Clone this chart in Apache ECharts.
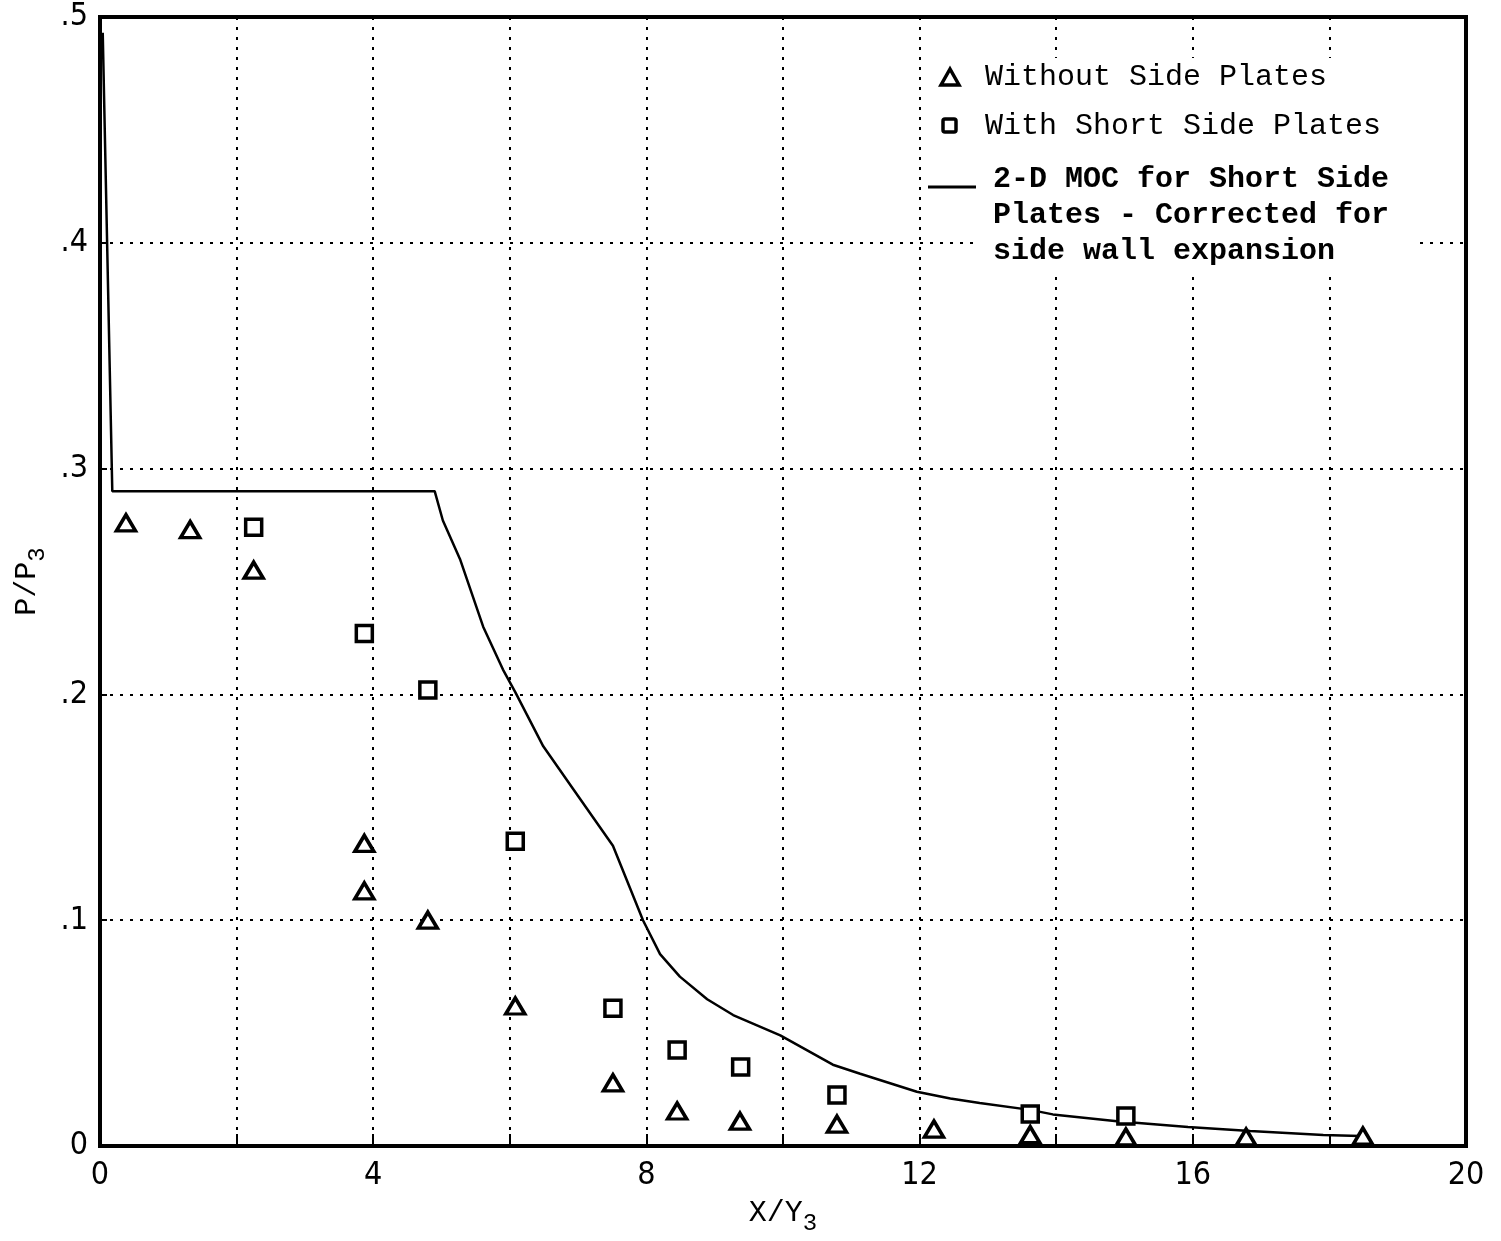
<!DOCTYPE html>
<html>
<head>
<meta charset="utf-8">
<script src="https://cdn.jsdelivr.net/npm/echarts@6/dist/echarts.min.js"></script>
<style>
  html, body { margin: 0; padding: 0; background: #fff; }
  #chart { width: 1501px; height: 1241px; }
</style>
</head>
<body>
<div id="chart"></div>
<script>
// Pressure ratio P/P3 along the ramp, X/Y3

// 2-D MOC prediction (short side plates, corrected for side wall expansion)
const mocX = [0.04, 0.18, 4.90, 5.02, 5.27, 5.61, 5.90, 6.08, 6.49, 6.93, 7.51, 7.95, 8.20, 8.49, 8.89, 9.27, 9.96, 10.73, 11.13, 11.96, 12.45, 12.88, 13.62, 13.95, 14.89, 15.93, 16.84, 17.91, 18.45];
const mocY = [0.493, 0.290, 0.290, 0.277, 0.260, 0.230, 0.211, 0.201, 0.177, 0.158, 0.133, 0.100, 0.085, 0.075, 0.065, 0.058, 0.049, 0.036, 0.032, 0.024, 0.021, 0.019, 0.016, 0.014, 0.011, 0.0084, 0.0066, 0.0049, 0.0044];

// Measured: without side plates
const noPlateX = [0.38, 1.32, 2.25, 3.87, 3.87, 4.80, 6.08, 7.51, 8.45, 9.37, 10.79, 12.21, 13.62, 15.02, 16.78, 18.49];
const noPlateY = [0.276, 0.273, 0.255, 0.134, 0.113, 0.100, 0.062, 0.028, 0.0155, 0.011, 0.0097, 0.0075, 0.005, 0.004, 0.004, 0.0044];

// Measured: with short side plates
const shortPlateX = [2.25, 3.87, 4.80, 6.08, 7.51, 8.45, 9.38, 10.79, 13.62, 15.02];
const shortPlateY = [0.274, 0.227, 0.202, 0.135, 0.061, 0.0425, 0.035, 0.0226, 0.0142, 0.0133];

// Axis tick labels
const xTickLabels = ['0', '4', '8', '12', '16', '20'];
const yTickLabels = ['0', '.1', '.2', '.3', '.4', '.5'];

const legendNames = ['Without Side Plates', 'With Short Side Plates',
  '2-D MOC for Short Side', 'Plates - Corrected for', 'side wall expansion'];

const zip = (xs, ys) => xs.map((x, i) => [x, ys[i]]);

const MONO = '"Liberation Mono", "DejaVu Sans Mono", monospace';
const NARROW = '"DejaVu Sans Condensed", "Liberation Sans Narrow", sans-serif';

const chart = echarts.init(document.getElementById('chart'), null, { renderer: 'canvas' });

const gridDots = { color: '#000', width: 2, type: [3, 7] };

const nameRich = {
  a: { fontFamily: MONO, fontSize: 30, color: '#000', verticalAlign: 'top', lineHeight: 30 },
  b: { fontFamily: MONO, fontSize: 24, color: '#000', verticalAlign: 'top', padding: [14, 0, 0, 0] }
};

const option = {
  backgroundColor: '#fff',
  animation: false,
  grid: {
    left: 100, right: 35, top: 17, bottom: 94,
    show: true, borderColor: '#000', borderWidth: 4, backgroundColor: 'transparent'
  },
  xAxis: {
    type: 'value', min: 0, max: 20, interval: 2,
    axisLine: { show: true, lineStyle: { color: '#000', width: 4 } },
    axisTick: { show: true, inside: true, length: 12, lineStyle: { color: '#000', width: 2 } },
    axisLabel: {
      color: '#000', fontFamily: NARROW, fontWeight: 'lighter', fontSize: 32, margin: 14,
      formatter: v => (v % 4 === 0 ? xTickLabels[v / 4] : '')
    },
    splitLine: { show: true, lineStyle: gridDots },
    name: '{a|X/Y}{b|3}',
    nameLocation: 'middle', nameGap: 52,
    nameTextStyle: { fontFamily: MONO, fontSize: 30, color: '#000', rich: nameRich }
  },
  yAxis: {
    type: 'value', min: 0, max: 0.5, interval: 0.1,
    axisLine: { show: true, lineStyle: { color: '#000', width: 4 } },
    axisTick: { show: true, inside: true, length: 7, lineStyle: { color: '#000', width: 2 } },
    axisLabel: {
      color: '#000', fontFamily: NARROW, fontWeight: 'lighter', fontSize: 32, margin: 12,
      formatter: v => yTickLabels[Math.round(v * 10)]
    },
    splitLine: { show: true, lineStyle: gridDots },
    name: '{a|P/P}{b|3}',
    nameLocation: 'middle', nameRotate: 90, nameGap: 46,
    nameTextStyle: { fontFamily: MONO, fontSize: 30, color: '#000', rich: nameRich }
  },
  series: [
    {
      name: legendNames[2], type: 'line', data: zip(mocX, mocY),
      showSymbol: false, symbol: 'none', smooth: false,
      lineStyle: { color: '#000', width: 2.5 }, z: 3
    },
    {
      name: legendNames[0], type: 'scatter', data: zip(noPlateX, noPlateY),
      symbol: 'triangle', symbolSize: [19, 16],
      itemStyle: { color: '#fff', borderColor: '#000', borderWidth: 3.5, opacity: 1 }, z: 4
    },
    {
      name: legendNames[1], type: 'scatter', data: zip(shortPlateX, shortPlateY),
      symbol: 'rect', symbolSize: [16, 16],
      itemStyle: { color: '#fff', borderColor: '#000', borderWidth: 3.5, opacity: 1 }, z: 4
    }
  ],
  graphic: [
    // white panel behind the key
    { type: 'rect', z: 10, shape: { x: 925, y: 58, width: 490, height: 176 }, style: { fill: '#fff' } },
    { type: 'rect', z: 10, shape: { x: 980, y: 232, width: 435, height: 40 }, style: { fill: '#fff' } },
    // key symbols
    { type: 'polygon', z: 11, shape: { points: [[950, 69], [941, 85], [959, 85]] },
      style: { fill: '#fff', stroke: '#000', lineWidth: 3.5 } },
    { type: 'rect', z: 11, shape: { x: 943, y: 119, width: 13, height: 13, r: 2 },
      style: { fill: '#fff', stroke: '#000', lineWidth: 3.5 } },
    { type: 'line', z: 11, shape: { x1: 928, y1: 187, x2: 976, y2: 187 },
      style: { stroke: '#000', lineWidth: 3 } },
    // key text
    { type: 'text', z: 11, style: { text: legendNames[0], x: 985, y: 77, fontFamily: MONO, fontSize: 30, fill: '#000', verticalAlign: 'middle' } },
    { type: 'text', z: 11, style: { text: legendNames[1], x: 985, y: 126, fontFamily: MONO, fontSize: 30, fill: '#000', verticalAlign: 'middle' } },
    { type: 'text', z: 11, style: { text: legendNames[2], x: 993, y: 179, fontFamily: MONO, fontSize: 30, fontWeight: 'bold', fill: '#000', verticalAlign: 'middle' } },
    { type: 'text', z: 11, style: { text: legendNames[3], x: 993, y: 215, fontFamily: MONO, fontSize: 30, fontWeight: 'bold', fill: '#000', verticalAlign: 'middle' } },
    { type: 'text', z: 11, style: { text: legendNames[4], x: 993, y: 251, fontFamily: MONO, fontSize: 30, fontWeight: 'bold', fill: '#000', verticalAlign: 'middle' } }
  ]
};

chart.setOption(option);
</script>
</body>
</html>
